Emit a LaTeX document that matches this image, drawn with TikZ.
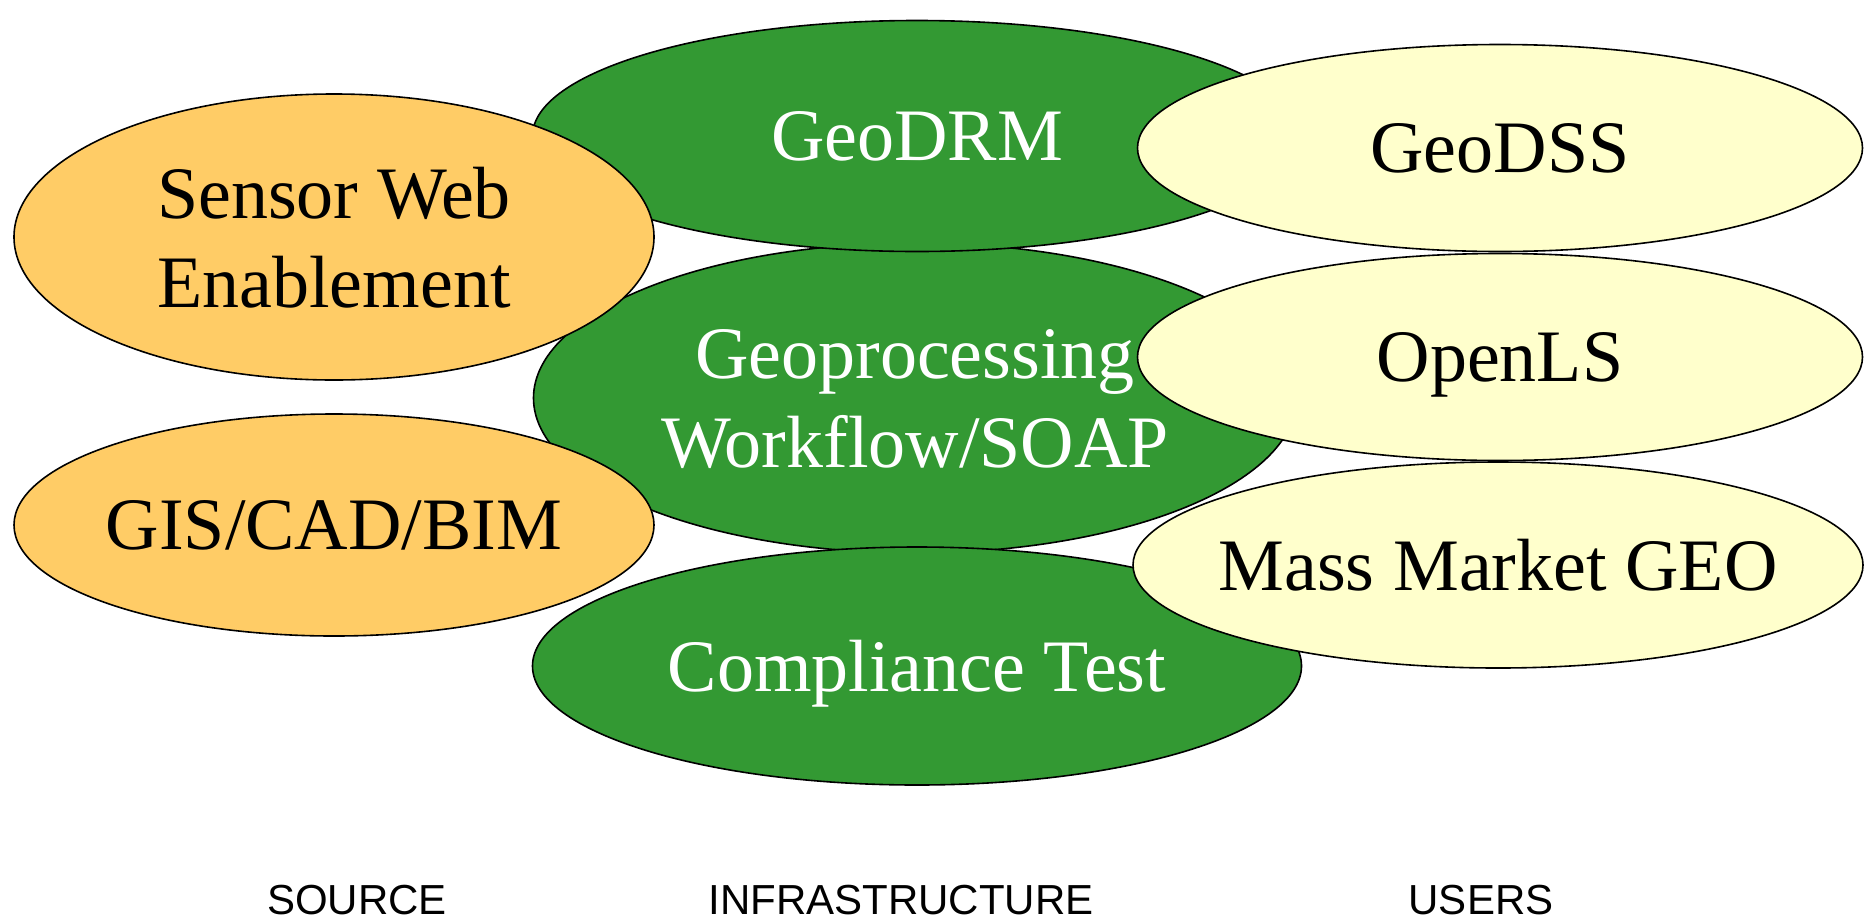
\documentclass[tikz,border=0pt]{standalone}
\usepackage{fontspec}
\setmainfont{Liberation Serif}
\setsansfont{Liberation Sans}
\usetikzlibrary{shapes.geometric}

\definecolor{srcorange}{HTML}{FFCC66}
\definecolor{infgreen}{HTML}{339933}
\definecolor{usryellow}{HTML}{FFFFCC}

\tikzset{
  blob/.style={ellipse, draw=black, line width=.8pt, inner xsep=-160pt, inner ysep=-60pt,
    text depth=0pt, align=center, font=\fontsize{37}{44.5}\selectfont},
  srcblob/.style={blob, fill=srcorange, text=black},
  infblob/.style={blob, fill=infgreen, text=white},
  usrblob/.style={blob, fill=usryellow, text=black},
  columnlabel/.style={font=\sffamily\fontsize{21}{25}\selectfont, inner sep=0pt}
}

\begin{document}
\begin{tikzpicture}[x=0.5pt, y=-0.5pt]
  \useasboundingbox (0, 0) rectangle (1864, 922);

  %%infrastructure
  \node[infblob, minimum width=381.5pt, minimum height=155pt] (geoproc) at (915, 398) {Geoprocessing\\Workflow/SOAP};
  \node[infblob, minimum width=384.5pt, minimum height=115.5pt] (geodrm) at (917, 136) {GeoDRM};
  \node[infblob, minimum width=384.5pt, minimum height=119pt] (compliance) at (917, 666) {Compliance Test};

  %%source
  \node[srcblob, minimum width=320pt, minimum height=143pt] (sensorweb) at (334, 237) {Sensor Web\\Enablement};
  \node[srcblob, minimum width=320pt, minimum height=111pt] (gis) at (334, 525) {GIS/CAD/BIM};

  %%users
  \node[usrblob, minimum width=362.5pt, minimum height=103.5pt] (geodss) at (1500, 148) {GeoDSS};
  \node[usrblob, minimum width=362.5pt, minimum height=103.5pt] (openls) at (1500, 357) {OpenLS};
  \node[usrblob, minimum width=365pt, minimum height=103pt] (massmarket) at (1498, 565) {Mass Market GEO};

  %%labels
  \node[columnlabel] (source) at (357, 900) {SOURCE};
  \node[columnlabel] (infra) at (901, 900) {INFRASTRUCTURE};
  \node[columnlabel] (users) at (1481, 900) {USERS};

\end{tikzpicture}
\end{document}
